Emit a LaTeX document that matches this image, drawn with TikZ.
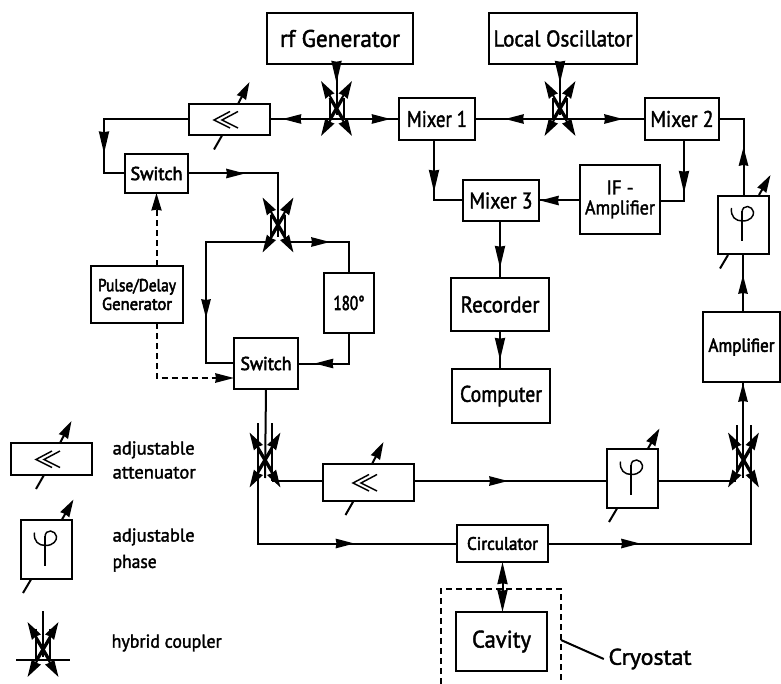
\documentclass[tikz,border=0pt]{standalone}
\usepackage{fontspec}
\usepackage{graphicx}
\usetikzlibrary{arrows.meta,decorations.markings,calc}
\setmainfont{PT Sans}[FakeBold=1.8]
\newfontfamily\heavy{PT Sans}[FakeBold=3]
\newcommand\lab[3]{\resizebox{\dimexpr#2pt*3/4\relax}{\height}{\fontsize{#1}{#1}\selectfont #3}}
\newcommand\hlab[3]{\resizebox{\dimexpr#2pt*3/4\relax}{\height}{\fontsize{#1}{#1}\selectfont\heavy #3}}
\newcommand\mkbox[6]{%
  \pgfmathsetmacro\bw{(#4-#2)*0.75}\pgfmathsetmacro\bh{(#5-#3)*0.75}%
  \pgfmathsetmacro\bxc{(#2+#4)/2}\pgfmathsetmacro\byc{(#3+#5)/2}%
  \node[box,minimum width=\bw pt,minimum height=\bh pt] (#1) at (\bxc,\byc) {#6};}
\tikzset{
  hd/.tip={Stealth[length=14pt,width=7pt,inset=0.5pt]},
  vhd/.tip={Stealth[length=16.5pt,width=7.5pt,inset=0.5pt]},
  xhd/.tip={Stealth[length=13pt,width=7.5pt,inset=0.5pt]},
  box/.style={draw,line width=1.5pt,inner sep=0pt,outer sep=0pt,align=center,fill=white},
  conn/.style={line width=1.5pt,line join=miter},
  midarrow/.style={postaction={decorate},decoration={markings,mark=at position #1*0.75pt with {\arrow{hd}}}},
  midvarrow/.style={postaction={decorate},decoration={markings,mark=at position #1*0.75pt with {\arrow{vhd}}}},
  ctl/.style={line width=1.5pt},
  txt/.style={inner sep=0pt,outer sep=3.5pt,align=left},
  dashline/.style={line width=1.5pt,dash pattern=on 4.5pt off 3pt},
  pics/hybrid/.style n args={2}{code={
    \draw[ctl,-xhd] (7,10.5) -- (-15.5,-27.5);
    \draw[ctl,-xhd] (-7,10.5) -- (15.5,-27.5);
    \draw[ctl,-xhd] (7,-10.5) -- (-15.5,27.5);
    \draw[ctl,-xhd] (-7,-10.5) -- (15.5,27.5);
    \draw[ctl] (-7,#1) -- (-7,#2) (7,#1) -- (7,#2);
  }},
  pics/adjatt/.style n args={4}{code={
    \draw[ctl,-xhd] (#1,#2) -- ++(11.5,-22);
    \draw[ctl] (#3,#4) -- ++(-8,14);
    \draw[line width=1.1pt] (0.5,-8) -- (-15.5,0.5) -- (0.5,8.5) (8.5,-8) -- (-7.5,0.5) -- (8.5,8.5);
  }},
  pics/adjphase/.style={code={
    \draw[ctl,-xhd] (15.5,-30) -- (27,-50);
    \draw[ctl] (-15.5,30) -- (-23.5,43.5);
    \draw[line width=1.1pt] (-1.5,-14) -- (-1.5,16.5);
    \draw[line width=1.1pt] (-12,-17) .. controls (-13,-8) and (-8,-4) .. (-1,-4)
       .. controls (7,-4) and (10.5,-9) .. (10,-13)
       .. controls (9.5,-19) and (-1.5,-22) .. (-1.5,-12);
  }},
}
\begin{document}
\begin{tikzpicture}[x=0.75pt,y=-0.75pt]
\useasboundingbox (0,0) rectangle (781,684);
\fill[white] (0,0) rectangle (781,684);

% coupler centres and their ports
\coordinate (c1) at (336.5,108.5); \coordinate (c1h) at (336.5,119);
\coordinate (c2) at (560,108.5);   \coordinate (c2h) at (560,119);
\coordinate (c3) at (278,225);     \coordinate (c3l) at (272,242); \coordinate (c3r) at (286,242);
\coordinate (c6) at (265,460);     \coordinate (c6l) at (258,480); \coordinate (c6r) at (272,481);
\coordinate (c7) at (743.5,460);   \coordinate (c7l) at (736,481); \coordinate (c7r) at (750.5,470);
\coordinate (c7t) at (743,478);
\coordinate (jm2) at (743.5,119);

% boxes
\mkbox{rf}{267}{13}{413}{64}{\lab{18}{120}{rf Generator}}
\mkbox{lo}{489}{13}{637}{64}{\lab{17}{139}{Local Oscillator}}
\mkbox{attT}{189}{104}{270}{135}{}
\mkbox{mix1}{399}{98}{475}{140}{\lab{17}{60}{Mixer 1}}
\mkbox{mix2}{645}{98}{719}{140}{\lab{17}{63}{Mixer 2}}
\mkbox{ifa}{580}{165}{660}{234}{\lab{15}{27}{IF -}\\[3pt]\lab{15}{70}{Amplifier}}
\mkbox{mix3}{463}{180}{539}{221}{\lab{17}{63}{Mixer 3}}
\mkbox{rec}{451}{278}{549}{331}{\lab{17}{79}{Recorder}}
\mkbox{comp}{452}{369}{550}{423}{\lab{17}{82}{Computer}}
\mkbox{phR}{718}{196}{769}{254}{}
\mkbox{amp}{703}{312}{780}{382}{\hlab{14}{66}{Amplifier}}
\mkbox{sw1}{125}{154}{188}{193}{\hlab{14}{52}{Switch}}
\mkbox{pulse}{91}{266}{183}{323}{\hlab{13}{78}{Pulse/Delay}\\[2pt]\hlab{13}{70}{Generator}}
\mkbox{deg}{324}{273}{374}{333}{\hlab{15}{31}{180°}}
\mkbox{sw2}{234}{338}{298}{389}{\hlab{14}{51}{Switch}}
\mkbox{attM}{323}{464}{414}{501}{}
\mkbox{phM}{607}{449}{658}{508}{}
\mkbox{circ}{457}{525}{548}{562}{\hlab{13.5}{71}{Circulator}}
\mkbox{cav}{456}{612}{547}{671}{\lab{18}{59}{Cavity}}
\mkbox{attL}{11}{443}{92}{475}{}
\mkbox{phL}{21}{520}{72}{579}{}

% adjustment marks
\pic at (attT.center) {adjatt={8.5}{-15.5}{-7.5}{16}};
\pic at (attM.center) {adjatt={3.5}{-18.5}{-15}{18.5}};
\pic at (attL.center) {adjatt={8.5}{-16}{-7.5}{16}};
\pic at (phR.center) {adjphase};
\pic at (phM.center) {adjphase};
\pic at (phL.center) {adjphase};

% hybrid couplers
\pic at (c1) {hybrid={-10}{10}};
\pic at (c2) {hybrid={-10}{10}};
\pic at (c3) {hybrid={-10}{17}};
\pic at (c6) {hybrid={-37}{21}};
\pic at (c7) {hybrid={-35}{13}};
\coordinate (cL) at (43,649.5);
\pic at (cL) {hybrid={-21}{10.5}};
\coordinate (cLt) at (43,611); \coordinate (cLb) at (43,657);
\coordinate (cLw) at (16,660); \coordinate (cLe) at (70,660);
\draw[conn] (cLt) -- (cLb);
\draw[conn] (cLw) -- (cLe);

% connectors
\draw[conn,midvarrow=19] (rf.south -| c1) -- ($(c1h)+(0,-4)$);
\draw[conn,midvarrow=19] (lo.south -| c2) -- ($(c2h)+(0,-4)$);
\draw[conn,midarrow=54] (c1h) -- (attT.east |- c1h);
\draw[conn,midarrow=54] (c1h) -- (mix1.west |- c1h);
\draw[conn,midarrow=55] (c2h) -- (mix1.east |- c2h);
\draw[conn,midarrow=63] (c2h) -- (mix2.west |- c2h);
\draw[conn,midarrow=49] (phR.north -| jm2) -- (jm2) -- (mix2.east |- jm2);
\draw[conn,midvarrow=119] (attT.west) -- (104,119.5) |- (sw1.west);
\draw[conn,midarrow=57] (sw1.east) -| ($(c3)+(0,12)$);
\draw[conn,midarrow=142] (c3l) -| (206,363) -- (sw2.west |- 0,363);
\draw[conn,midarrow=44] (c3r) -| (deg.north);
\draw[conn,midarrow=65] (deg.south) |- (sw2.east);
\draw[conn,midvarrow=52] ([xshift=-2.25pt]mix1.south) |- (mix3.west);
\draw[conn,midvarrow=53] (mix2.south -| 684,0) |- (ifa.east |- 0,201);
\draw[conn,midarrow=40] (ifa.west |- mix3.east) -- (mix3.east);
\draw[conn,midvarrow=47] (mix3.south -| rec.north) -- (rec.north);
\draw[conn,midvarrow=29] (rec.south) -- (comp.north -| rec.south);
\draw[conn,midarrow=37] (amp.north -| c7t) -- (phR.south -| c7t);
\draw[conn,midarrow=95] (c7t) -- (amp.south -| c7t);
\draw[conn] (sw2.south) -- ($(c6)+(0,18)$);
\draw[conn,midarrow=160] (c6l) |- (circ.west);
\draw[conn] (c6r) -- (attM.west |- c6r);
\draw[conn,midarrow=94] (attM.east |- c6r) -- (phM.west |- c6r);
\draw[conn] (phM.east |- c7l) -- (c7l);
\draw[conn,midarrow=92] (circ.east) -| (c7r);
\draw[conn,vhd-vhd] (circ.south) -- (cav.north -| circ.south);
\draw[dashline,-xhd] (pulse.north -| sw1.south) -- (sw1.south);
\draw[dashline,-hd] (pulse.south -| sw1.south) |- (sw2.west |- 0,378);

% cryostat
\coordinate (cbl) at (441,684); \coordinate (cbr) at (561,684);
\draw[dashline] (cbl) |- (561,589) -- (cbr);
\node[txt,outer sep=3.5pt] (cryo) at (650,659) {\lab{17}{83}{Cryostat}};
\coordinate (cryoEdge) at (561,640);
\draw[conn] (cryoEdge) -- (cryo.west);

% legend text
\node[txt,anchor=west] (l1) at (108,460) {\lab{14}{82}{adjustable}\\[6pt]\lab{14}{83}{attenuator}};
\node[txt,anchor=west] (l2) at (108,550) {\lab{14}{82}{adjustable}\\[6pt]\lab{14}{44}{phase}};
\node[txt,anchor=west] (l3) at (107,643) {\lab{14}{110}{hybrid coupler}};
\end{tikzpicture}
\end{document}
